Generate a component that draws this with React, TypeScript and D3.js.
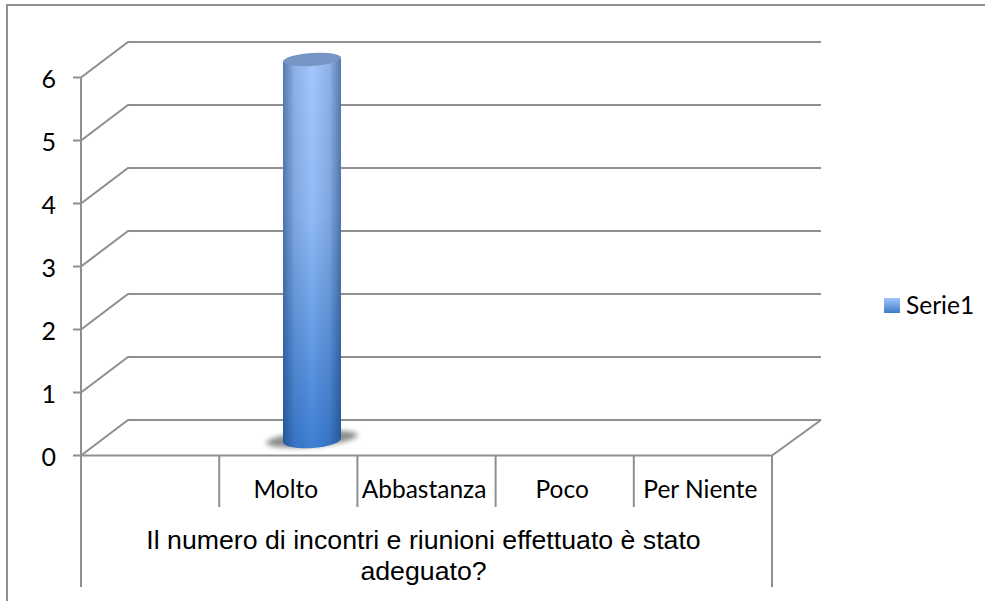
import React from "react";
import * as d3 from "d3";

const categories = ["", "Molto", "Abbastanza", "Poco", "Per Niente"];
const values = [0, 6, 0, 0, 0];
const yTicks = [0, 1, 2, 3, 4, 5, 6];
const seriesName = "Serie1";
const titleLines = ["Il numero di incontri e riunioni effettuato è stato", "adeguato?"];

const GRID = "#8f8f8f";
const DX = 47;
const DY = -35.5;
const LABEL_FONT = "Lato, 'Open Sans', sans-serif";

export default function App() {
  const y = d3.scaleLinear().domain([0, 6]).range([455.5, 77.5]);
  const x = d3.scaleBand<string>().domain(categories.map((c, i) => i + c)).range([81, 772]);
  const bw = x.bandwidth();
  const x0 = x.range()[0];
  const x1 = x.range()[1];
  return (
    <svg width={985} height={601} style={{ position: "absolute", left: 0, top: 0, background: "#fff" }}>
      <defs>
        <linearGradient id="cyl" x1="0" x2="1" y1="0" y2="0">
          <stop offset="0" stopColor="#0a2a5a" stopOpacity={0.5} />
          <stop offset="0.2" stopColor="#0a2a5a" stopOpacity={0.14} />
          <stop offset="0.5" stopColor="#000" stopOpacity={0} />
          <stop offset="0.8" stopColor="#0a2a5a" stopOpacity={0.14} />
          <stop offset="1" stopColor="#0a2a5a" stopOpacity={0.5} />
        </linearGradient>
        <linearGradient id="body" x1="0" x2="0" y1="0" y2="1">
          <stop offset="0" stopColor="#a3c8ff" />
          <stop offset="0.4" stopColor="#92bcf8" />
          <stop offset="1" stopColor="#3d80d6" />
        </linearGradient>
        <linearGradient id="leg" x1="0" x2="0" y1="0" y2="1">
          <stop offset="0" stopColor="#a3c4fb" />
          <stop offset="1" stopColor="#3c7cc8" />
        </linearGradient>
        <filter id="blur" x="-30%" y="-100%" width="160%" height="300%">
          <feGaussianBlur stdDeviation="2.5" />
        </filter>
      </defs>

      <path d="M7,601V5H985" fill="none" stroke={GRID} strokeWidth={2} />

      {yTicks.map((t) => (
        <path
          key={t}
          d={`M${x0 - 8},${y(t)}H${x0}L${x0 + DX},${y(t) + DY}H${x1 + DX + 2}`}
          stroke={GRID}
          strokeWidth={2}
          fill="none"
        />
      ))}
      <path d={`M${x0},${y(6)}V${y(0)}H${x1}L${x1 + DX + 2},${y(0) + DY}`} fill="none" stroke={GRID} strokeWidth={2} />

      <path d={`M${x0},455V587`} stroke={GRID} strokeWidth={2} />
      <path d={`M${x1},455V587`} stroke={GRID} strokeWidth={2} />
      {categories.slice(1).map((c, i) => {
        const key = i + 1 + c;
        return <path key={key} d={`M${x(key)},455V507`} stroke={GRID} strokeWidth={2} />;
      })}

      {categories.map((c, i) => {
        const key = i + c;
        if (!values[i]) return null;
        const cx = 312;
        const rx = 29;
        const top = y(values[i]) - 18;
        const bottom = 440;
        const body = `M${cx - rx},${top + 2}V${bottom + 2}A${rx},8 -4 0 0 ${cx + rx},${bottom - 2}V${top - 2}Z`;
        return (
          <g key={key}>
            <ellipse
              cx={cx}
              cy={bottom - 1}
              rx={46}
              ry={7.5}
              transform={`rotate(-5 ${cx} ${bottom})`}
              fill="#8a8a8a"
              filter="url(#blur)"
            />
            <path d={body} fill="url(#body)" />
            <path d={body} fill="url(#cyl)" />
            <ellipse cx={cx} cy={top} rx={rx} ry={6.5} transform={`rotate(-4 ${cx} ${top})`} fill="#7696c6" />
          </g>
        );
      })}

      <g fontFamily={LABEL_FONT} fontSize={25} fill="#000" textAnchor="end">
        {yTicks.map((t) => (
          <text key={t} x={56} y={y(t)} dy="0.42em">{t}</text>
        ))}
      </g>
      <g fontFamily={LABEL_FONT} fontSize={24.5} fill="#000" textAnchor="middle">
        {categories.map((c, i) => (
          <text key={i} x={(x(i + c) as number) + bw / 2 - 2.5} y={498}>{c}</text>
        ))}
      </g>
      <g fontFamily="'Liberation Sans', Arial, sans-serif" fontSize={26.7} fill="#000" textAnchor="middle">
        {titleLines.map((l, i) => (
          <text key={i} x={423.5} y={549 + i * 31}>{l}</text>
        ))}
      </g>

      <rect x={884} y={298} width={16} height={15} fill="url(#leg)" />
      <text x={906} y={313.5} fontFamily={LABEL_FONT} fontSize={24.5} fill="#000">{seriesName}</text>
    </svg>
  );
}
